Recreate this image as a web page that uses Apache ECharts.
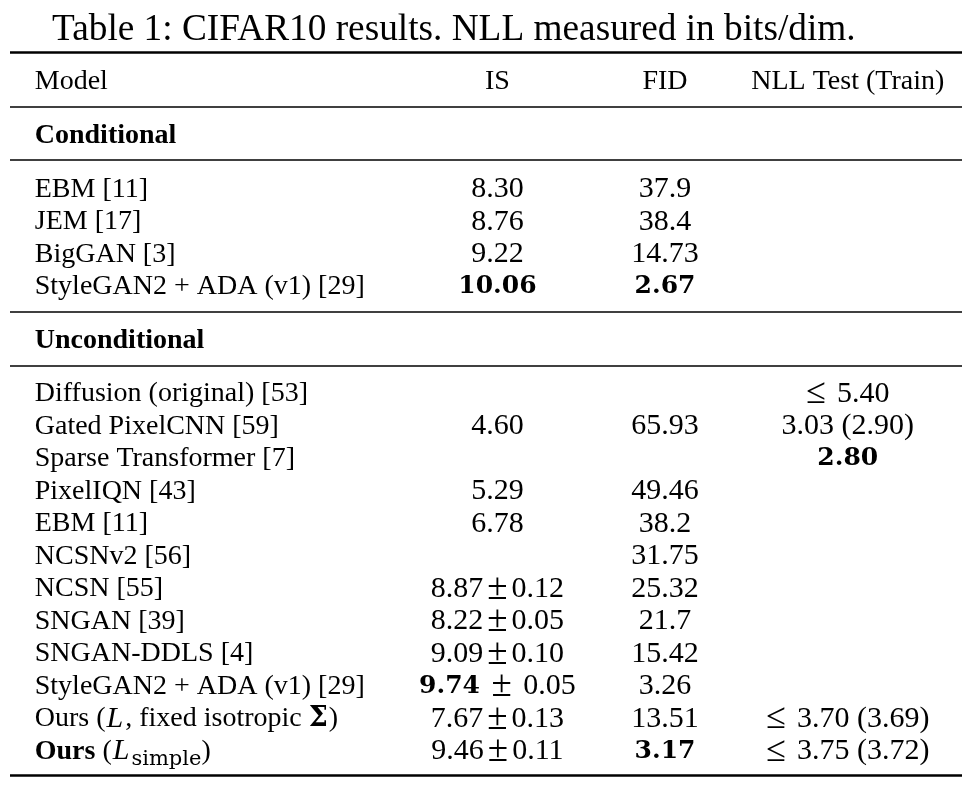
<!DOCTYPE html>
<html>
<head>
<meta charset="utf-8">
<script src="https://cdn.jsdelivr.net/npm/echarts@6/dist/echarts.min.js"></script>
<style>
  html, body { margin: 0; padding: 0; background: #fff; }
  #chart { width: 965px; height: 790px; }
</style>
</head>
<body>
<div id="chart"></div>
<script>
// table content
const captionText = 'Table 1: CIFAR10 results. NLL measured in bits/dim.';
const headers = ['Model', 'IS', 'FID', 'NLL Test (Train)'];
const sections = ['Conditional', 'Unconditional'];

const condModels = ['EBM [11]', 'JEM [17]', 'BigGAN [3]', 'StyleGAN2 + ADA (v1) [29]'];
const condIS = ['8.30', '8.76', '9.22', '{b|10.06}'];
const condFID = ['37.9', '38.4', '14.73', '{b|2.67}'];
const condNLL = ['', '', '', ''];

const uncondModels = ['Diffusion (original) [53]', 'Gated PixelCNN [59]', 'Sparse Transformer [7]',
  'PixelIQN [43]', 'EBM [11]', 'NCSNv2 [56]', 'NCSN [55]', 'SNGAN [39]', 'SNGAN-DDLS [4]',
  'StyleGAN2 + ADA (v1) [29]', 'Ours ({i|L}, fixed isotropic {bs|Σ})', '{bt|Ours} ({i|L}{sub|simple})'];
const uncondIS = ['', '4.60', '', '5.29', '6.78', '', '8.87{pm|±}0.12', '8.22{pm|±}0.05', '9.09{pm|±}0.10',
  '{b|9.74} {pm|±} 0.05', '7.67{pm|±}0.13', '9.46{pm|±}0.11'];
const uncondFID = ['', '65.93', '', '49.46', '38.2', '31.75', '25.32', '21.7', '15.42',
  '3.26', '13.51', '{b|3.17}'];
const uncondNLL = ['{le|≤}5.40', '3.03 (2.90)', '{b|2.80}', '', '', '', '', '', '', '',
  '{le|≤}3.70 (3.69)', '{le|≤}3.75 (3.72)'];

// layout (row units on the y axis, percent of width on the x axis)
const colX = [2.6, 51.2, 68.8, 88.0];
const sectionGap = 1.65;
const topPad = 0.86, bottomPad = 0.8;

const serif = '"Liberation Serif", "Times New Roman", serif';

// work out row positions and rules
let cells = [[], [], [], []];
let rules = [];
let y = 0;
rules.push({ y: -topPad, w: 2.6 });
headers.forEach((h, c) => cells[c].push({ value: [colX[c], y], text: h, label: { fontSize: 28 } }));

const blocks = [
  { title: sections[0], cols: [condModels, condIS, condFID, condNLL] },
  { title: sections[1], cols: [uncondModels, uncondIS, uncondFID, uncondNLL] }
];
blocks.forEach(b => {
  y += sectionGap;
  rules.push({ y: y - sectionGap / 2, w: 1.6 });
  cells[0].push({ value: [colX[0], y], text: '{bt|' + b.title + '}' });
  y += sectionGap;
  rules.push({ y: y - sectionGap / 2, w: 1.6 });
  b.cols[0].forEach((_, r) => {
    b.cols.forEach((col, c) => {
      if (col[r] !== '') cells[c].push({ value: [colX[c], y + r], text: col[r] });
    });
  });
  y += b.cols[0].length - 1;
});
rules.push({ y: y + bottomPad, w: 2.6 });

const rich = {
  b: { fontFamily: '"DejaVu Serif"', fontWeight: 'bold', fontSize: 25, color: '#000' },
  bt: { fontFamily: serif, fontWeight: 'bold', fontSize: 28, color: '#000' },
  i: { fontFamily: serif, fontStyle: 'italic', fontSize: 30, color: '#000', padding: [0, 2, 0, 1] },
  bs: { fontFamily: '"DejaVu Serif"', fontWeight: 'bold', fontSize: 27, color: '#000', padding: [0, 1, 0, 0] },
  sub: { fontFamily: '"DejaVu Serif"', fontSize: 21, color: '#000', verticalAlign: 'bottom', lineHeight: 37 },
  pm: { fontFamily: serif, fontSize: 37, color: '#000', padding: [0, 4] },
  le: { fontFamily: serif, fontSize: 36, color: '#000', padding: [0, 11, 0, 0] }
};

const chart = echarts.init(document.getElementById('chart'));

let series = cells.map((data, c) => ({
  type: 'scatter',
  symbolSize: 0,
  silent: true,
  itemStyle: { opacity: 1 },
  data: data,
  label: {
    show: true,
    position: c === 0 ? 'right' : 'inside',
    distance: 0,
    offset: [0, 2],
    fontFamily: serif,
    fontSize: c === 0 ? 28 : 30,
    color: '#000',
    lineHeight: 30,
    formatter: p => p.data.text,
    rich: rich
  }
}));
// horizontal rules of the table
series[0].markLine = {
  silent: true,
  symbol: ['none', 'none'],
  label: { show: false },
  data: rules.map(r => ({ yAxis: r.y, lineStyle: { color: '#000', width: r.w, type: 'solid', opacity: 1 } }))
};

chart.setOption({
  animation: false,
  backgroundColor: '#fff',
  title: {
    text: captionText,
    left: 47,
    top: 7,
    textStyle: { fontFamily: serif, fontSize: 37.3, fontWeight: 'normal', color: '#000' }
  },
  grid: { left: 10, right: 3, top: 52, bottom: 14.5 },
  xAxis: { type: 'value', min: 0, max: 100, show: false },
  yAxis: { type: 'value', inverse: true, min: -topPad, max: y + bottomPad, show: false },
  series: series
});
</script>
</body>
</html>
